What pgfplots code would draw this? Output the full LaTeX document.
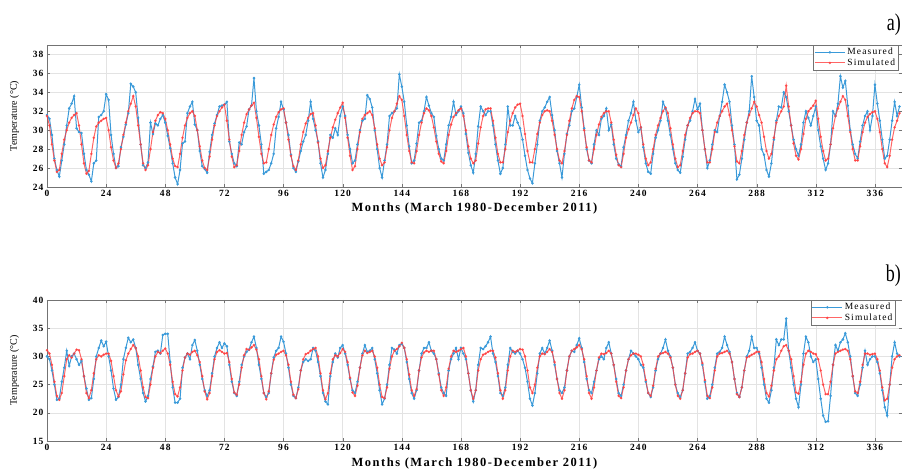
\documentclass[border=0pt]{standalone}
\usepackage{fontspec}
\setmainfont{Liberation Serif}
\newfontfamily\spaced[LetterSpace=12]{Liberation Serif}
\usepackage{pgfplots}
\pgfplotsset{compat=1.18}
\usepackage{pgfplotstable}
\definecolor{measblue}{HTML}{3A9AD9}
\definecolor{simred}{HTML}{FF4040}

\pgfplotstableread{
m am as bm bs
0 31.6 31.5 30 31.1
1 31.2 30.5 29.5 30.5
2 29.5 28.5 27.5 28.5
3 27 26.8 25 25.5
4 25.8 25.6 22.3 23
5 25.1 25.8 22.5 22.3
6 26.8 27.5 25.5 23.5
7 28.5 29 28 26.5
8 30.5 30 31 29.5
9 32.3 30.8 28.3 30.2
10 32.8 31.3 30 29.8
11 33.6 31.6 30.5 30.5
12 30.2 31.8 29.5 31.2
13 29.8 30.5 28.5 31.1
14 29.7 28.5 29.2 29.5
15 27.5 26.5 26.5 26.5
16 25.8 25.4 24.3 23.5
17 25.3 25.7 22.3 22.6
18 24.6 27.5 22.6 24
19 26.5 29.2 26 27
20 26.8 30.4 30 29.5
21 31.4 30.8 31.5 30.2
22 31.6 31 32.8 30
23 32 31.2 31.8 30.3
24 33.8 31.3 32.6 30.5
25 33.2 30 30 30.5
26 29.5 28.2 27.5 29.2
27 27.5 26.8 24.3 26.5
28 26 26 22.3 24
29 26.2 26.5 22.8 22.9
30 28.2 28 25 23.8
31 29.3 29.5 29.5 26.8
32 30.6 30.8 31.5 29.3
33 31.8 32 33.3 30.5
34 34.9 32.8 32.5 31.3
35 34.6 33.6 33 32
36 34 32.5 31.5 31.5
37 31.3 30.5 28.5 30
38 28.5 28.5 26 27.5
39 26.3 26.5 23.5 24.5
40 26 25.8 22 22.8
41 26.6 26.3 23 22.6
42 30.8 28 26 25
43 29.6 29.8 28.2 28
44 30.7 31 30.8 30
45 30.5 31.6 31 30.8
46 31.2 31.9 30.5 30.6
47 31.6 31.8 33.8 31
48 30.8 31.2 34 31.4
49 29.4 30 34 30.5
50 28.1 28.5 29 28.5
51 26.5 27 24.5 25.5
52 25 26.2 21.8 23.3
53 24.3 26.1 21.8 22.9
54 25.8 27.5 22.5 24.5
55 28.6 29.2 28 27.5
56 28.8 30.5 29.8 29.8
57 31.8 31.3 30.5 30.5
58 32.5 31.8 29.5 30.3
59 33 32 32 30.8
60 30.6 31.5 32.9 31
61 30 30 31 30.2
62 27.8 28.3 28.5 29
63 26.2 26.8 26 26.5
64 25.9 26 24 23.8
65 25.5 25.8 23 22.4
66 27.7 27.2 24 23.5
67 29.5 29 27 26.5
68 30.7 30.5 30 29.5
69 31.6 31.5 31.5 30.8
70 32.5 32 32.5 31.1
71 32.6 32.4 31.5 30.8
72 32.7 32.7 32.3 30.5
73 33 31 31.8 30.6
74 28.8 29 28.5 29
75 27.5 27.2 25.5 26
76 26.5 26.1 23.5 23.6
77 26.2 26.3 23 23.2
78 28.7 27.8 25.5 25
79 28.5 29.5 28.5 28
80 29.8 30.8 30 30.2
81 30.4 31.7 30.8 31.3
82 32.2 32.2 31.2 31.2
83 32.6 32.6 32.5 31.6
84 35.5 32.9 33.5 32
85 32 31.3 31.5 31.2
86 30.5 29.3 28.5 29.5
87 28.5 27.5 26 26.5
88 25.4 26.5 23.5 23.5
89 25.6 26.6 22.8 22.4
90 25.8 28 23.5 23.8
91 26.5 29.5 27 27
92 27.5 30.6 29.8 29.4
93 30.2 31.4 31 30.3
94 31.4 31.9 31.5 30.5
95 33 32.2 33.5 30.8
96 32.2 32.3 32.6 31
97 30.8 30.8 30.5 30.2
98 29.5 29 28 28.5
99 27.4 27.3 25 25.5
100 26 26.2 23 23.2
101 25.6 25.8 22.6 22.6
102 26.7 26.8 24.5 24.2
103 27.8 28.5 27.5 27.5
104 28.8 29.8 29 29.5
105 29.5 30.7 29.5 30.4
106 31 31.3 29.2 30.6
107 33 31.7 29.5 31
108 31.2 31.8 31.5 31.3
109 30 30.5 31 31.5
110 28.8 28.7 29 30
111 26.5 27 26.5 27
112 25 26 23.5 24
113 25.8 26.3 22 22.4
114 27.5 27.8 21.5 23.5
115 29.5 29.2 26.5 27
116 29.2 30.3 29 29.5
117 30.2 31.1 30.5 30.2
118 29.5 31.8 29.8 30
119 31.5 32.4 31.5 30.6
120 32.5 32.9 32 31.3
121 31.5 31.3 30.5 30.8
122 29.5 29.2 28.5 29
123 28 27.3 26 26.2
124 26.5 25.8 24 23.6
125 26.8 26.2 23.5 23
126 28.5 28 25.5 24.8
127 30 29.8 28 28
128 31 31.2 30.5 30.2
129 31.2 31.6 32 31
130 33.7 31.8 30.8 30.6
131 33.3 32 31 30.8
132 32.4 31.6 31.5 31
133 30 30.2 29.5 30
134 28 28.5 27 28
135 26 27 24 25
136 25 26.3 21.5 22.8
137 26.8 26.6 22.5 22.6
138 28.5 28.2 25 24.5
139 31.5 30 28.5 27.8
140 31.8 31.3 31.5 30
141 32 32 31.2 31
142 32.3 32.8 30.5 31.3
143 35.9 33.6 32 31.8
144 34.6 33.2 32.2 32.4
145 33 31.5 31.5 31.5
146 30.5 29.5 29 29.5
147 28.3 27.8 26 26.8
148 26.5 26.6 23.5 24
149 26.8 26.5 22.5 23
150 28.6 27.8 24 24.2
151 30.8 29.5 27.5 27.5
152 31 30.8 30.5 29.8
153 32 31.8 31.5 30.7
154 33.5 32.3 31.5 31
155 32.6 32.1 32.5 30.8
156 31.8 31.5 31 31
157 31.4 30.3 30.5 31
158 29.4 28.8 29.5 29.5
159 28 27.5 27 26.8
160 27 26.7 24.5 24
161 26.8 26.5 23.5 23
162 28.5 27.8 23 24.5
163 30.5 29.5 27.5 27.8
164 31.4 30.6 29.5 30
165 33 31.4 30.5 31
166 31.6 31.8 31.5 30.8
167 32 32.1 29.5 31
168 32.5 32.3 31.5 31.3
169 31.8 31.5 30.5 31.5
170 29.6 30 29.5 30
171 27.6 28.3 27 27
172 26.3 27 24 24
173 25.5 26.5 22 22.5
174 27.5 26.8 24 24
175 30.4 28.6 28.5 27.5
176 32.5 30.3 31.5 29.5
177 32 31.5 31.3 30.3
178 31.6 32.2 31.8 30.5
179 32 32.3 32.5 30.8
180 32 32.3 33.5 31
181 30.5 31 30.5 31
182 28.5 29.2 29 29.8
183 26.8 27.5 26.5 27
184 25.4 26.6 23.5 24
185 26 26.6 23 22.5
186 28.5 28 24.5 24
187 32.5 29.8 28.5 27.5
188 30.5 31 31.5 30
189 30.5 31.8 30.8 31
190 31.5 32.4 30.5 30.8
191 30.8 32.7 31 31
192 30.2 32.8 30.5 31.3
193 29 31.5 29.5 31.2
194 27.3 29.6 28 30
195 25.8 27.8 25.5 27.5
196 24.9 26.6 22.5 24.5
197 24.4 26.6 21.3 23.5
198 26.5 28 23.5 25
199 28.5 29.6 27 28
200 31 30.8 30.5 30
201 32 31.6 31.5 30.5
202 32.4 32 30.5 30.4
203 33 32.1 31.5 30.8
204 33.5 32 32.8 31.3
205 31.6 31 31 30.8
206 30 29.5 28.5 29
207 27.8 28 26 26
208 26.5 26.8 24 23.5
209 25 26.5 23.5 22.5
210 27.5 27.8 24.5 24
211 29.6 29.5 27.5 27.5
212 30.5 31 30 30
213 32 32.3 31 31
214 32.3 33.2 30.8 31.3
215 33.5 33.6 32 31.6
216 34.8 33.5 33.2 32
217 32.4 32 31.5 31.3
218 30.2 30 29 29.5
219 28 28.2 26 26.5
220 26.8 26.8 24 23.5
221 26.5 26.6 23.5 22.5
222 28.5 28 25.5 24.5
223 30 29.5 27.5 27.5
224 29.5 30.6 29.5 29.8
225 31.2 31.4 30 30.5
226 31.5 31.8 29.5 30.4
227 32.3 32 31.5 30.6
228 30 32 32.5 31
229 30.6 30.8 30.5 30.5
230 28.5 29 28.5 28.5
231 27 27.4 26 25.5
232 26.4 26.3 23.5 23
233 26.2 26.1 23 22.6
234 28.2 27.5 25 24.5
235 29.5 29.2 27.5 27.5
236 31 30.1 29.5 29.5
237 31.8 30.8 31 30.2
238 33 31.6 30.5 30.5
239 31 32.3 30 30.5
240 29.8 31.8 29.5 30.3
241 30.3 30.3 28.5 30
242 28.2 28.5 28 28.5
243 26.5 27 25.5 25.8
244 25.6 26.3 23.5 23.5
245 25.4 26.6 22.8 23
246 27.5 28 24.5 24.8
247 29.2 29.5 27.5 27.8
248 30 30.5 29.5 30
249 31 31.3 30.5 30.5
250 33 32 31.5 30.6
251 32.3 32.4 33 30.8
252 31 31.8 31 30.5
253 29.5 30.2 30 29.8
254 28 28.5 28 28
255 26.5 27 25 25
256 25.8 26.1 23.5 23
257 25.5 26.3 22.8 22.5
258 27.2 27.8 24 24
259 29 29.5 27 27
260 30.5 30.5 30.5 29.8
261 31 31.3 30.8 30.4
262 32 31.8 31.5 30.5
263 33.3 32 32.5 30.8
264 32.2 32 31 31
265 32.8 31.8 30.5 30.5
266 30 30 28.5 28.8
267 28 28 25.5 25.8
268 26 26.6 22.5 23
269 26.8 26.6 23 22.6
270 28.5 28 25 24.5
271 30 29.8 28 27.5
272 29.8 30.8 30.5 30
273 31.5 31.5 30.8 30.5
274 33 32 31.5 30.6
275 34.8 32.5 33.5 30.8
276 34 32.8 32 31
277 33 31.6 30.8 30.5
278 30.5 30 29 29
279 28.5 28.3 26 26
280 24.8 26.7 23.5 23.3
281 25.3 26.5 22.8 22.8
282 27 27.8 24.5 24.5
283 29 29.5 27.5 27.5
284 30.8 30.8 30 29.8
285 32 31.6 31 30
286 35.7 32.3 33.5 30.3
287 33.5 33 31.5 30.5
288 31 32.5 31.5 30.8
289 30.5 31.6 30.5 30.8
290 28 30.8 28 29
291 27.4 29.3 25 26
292 25.8 27.8 22.5 23.5
293 25.1 27 21.8 22.9
294 26.5 27.5 24 24.8
295 29 29.2 28 27.5
296 31 30.8 33 29.5
297 32.5 31.5 32 30
298 32.4 32 33 31
299 34 32.5 33 31.8
300 33.5 34.7 36.7 32
301 32 32.5 31 31
302 30.5 30.5 28 29.5
303 29 28.6 25 26.5
304 28 27.3 22.5 23.6
305 27.3 26.9 21 23.4
306 28.5 28 25 25.5
307 30.8 29.6 30.5 28.5
308 32 31.2 33.5 30.5
309 31.3 32 32.5 31
310 30.5 32.3 30 30.8
311 31.5 32.6 29 30.5
312 32.5 33.1 29.5 30.4
313 30 31.2 26 29.5
314 28.3 29.3 22.5 27.5
315 27 27.8 19.5 25
316 25.8 26.8 18.4 23.3
317 26.5 27 18.5 23.3
318 28.5 28.5 23 25.5
319 32 30.2 28.5 28.5
320 31.5 31.5 32 30.5
321 32.8 32.3 31 30.8
322 35.7 33 32.5 31
323 34.5 33.6 33 31.2
324 35.2 33.2 34.1 31.3
325 32.6 31.5 32.5 31
326 30 29.8 30 29.5
327 28.5 28 26.5 26.5
328 27.5 26.8 23.5 23.8
329 27 26.8 23 23.5
330 28.8 28.3 25 25.5
331 30.5 29.8 28 28.5
332 31.5 30.8 31 30.5
333 32 31.4 28.5 30.5
334 30 31.7 29.5 30.3
335 31.5 31.9 30 30.4
336 34.8 32 30 30.5
337 32.8 31.2 29 29.5
338 31 29.8 27 27.5
339 29 28 24 24.5
340 27 26.5 21 22.2
341 27.3 26.1 19.5 22.5
342 29 27.3 25 25
343 31 29 30 28
344 33 30.3 32.5 29.5
345 31.5 31 30.5 30
346 32.5 31.8 30 30.2
}\temps

\pgfplotsset{
  tempaxis/.style={
    scale only axis,
    width=855pt,
    xmin=0, xmax=347,
    xtick={0,24,...,336},
    grid=major,
    grid style={gray!22, line width=0.5pt},
    axis line style={black!55, line width=0.9pt},
    major tick length=3pt,
    tick style={black!55},
    tick label style={font=\spaced\bfseries\fontsize{9.5}{10}\selectfont},
    /pgf/number format/assume math mode=true,
    xlabel={\spaced\bfseries\fontsize{12.5}{13}\selectfont Months (March 1980-December 2011)},
    xlabel style={at={(axis description cs:0.5,0)}, anchor=center, yshift=-22pt},
    ylabel={\fontsize{10}{10}\selectfont Temperature (°C)},
    ylabel style={at={(axis description cs:-0.038,0.5)}, anchor=center},
    legend cell align=left,
    legend style={draw=black!55, fill=white, line width=0.6pt,
      font=\spaced\fontsize{9.5}{10}\selectfont,
      inner sep=1pt, row sep=-1.5pt},
    legend image code/.code={
      \draw[mark repeat=2, mark phase=2, #1] plot coordinates {(0pt,0pt) (15pt,0pt) (30pt,0pt)};
    },
  },
  meas/.style={color=measblue, line width=1pt, mark=*, mark size=0.7pt},
  sim/.style={color=simred, opacity=0.8, line width=1pt, mark=*, mark size=0.7pt},
}

\begin{document}
\begin{tikzpicture}
\useasboundingbox (0,0) rectangle (902pt,470pt);

% panel a
\begin{axis}[tempaxis,
    at={(47pt,283pt)}, anchor=south west,
    height=142pt,
    ymin=24, ymax=39,
    ytick={24,26,...,38},
    legend style={at={(rel axis cs:0.896,1)}, anchor=north west},
  ]
  \addplot[meas] table[x=m, y=am] {\temps};
  \addplot[sim] table[x=m, y=as] {\temps};
  \legend{Measured, Simulated}
\end{axis}

% panel b
\begin{axis}[tempaxis,
    at={(47pt,29pt)}, anchor=south west,
    height=141pt,
    ymin=15, ymax=40,
    ytick={15,20,...,40},
    legend style={at={(rel axis cs:0.893,1)}, anchor=north west},
  ]
  \addplot[meas] table[x=m, y=bm] {\temps};
  \addplot[sim] table[x=m, y=bs] {\temps};
  \legend{Measured, Simulated}
\end{axis}

\node[anchor=east, inner sep=0pt] at (901pt,445pt) {\scalebox{0.75}[1]{\fontsize{24}{24}\selectfont a)}};
\node[anchor=east, inner sep=0pt] at (901pt,194pt) {\scalebox{0.75}[1]{\fontsize{24}{24}\selectfont b)}};
\end{tikzpicture}
\end{document}
